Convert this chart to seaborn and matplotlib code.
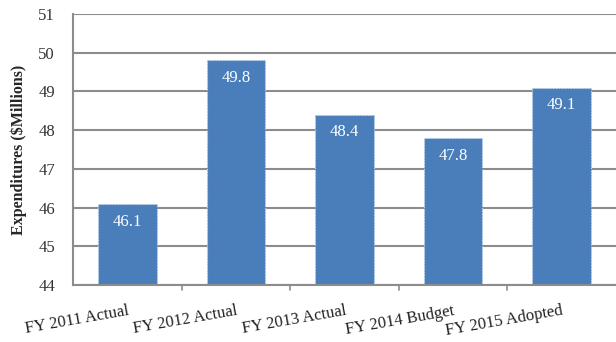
import matplotlib
matplotlib.use("Agg")
import matplotlib.pyplot as plt
import seaborn as sns
import pandas as pd

categories = ["FY 2011 Actual", "FY 2012 Actual", "FY 2013 Actual", "FY 2014 Budget", "FY 2015 Adopted"]
values = [46.1, 49.8, 48.4, 47.8, 49.1]
y_ticks = [44, 45, 46, 47, 48, 49, 50, 51]

df = pd.DataFrame({"category": categories, "value": values})

sns.set_style("white")
plt.rcParams["font.family"] = ["Liberation Serif", "DejaVu Serif"]

fig = plt.figure(figsize=(6.16, 3.42), dpi=100)
ax = fig.add_axes([0.1185, 0.1667, 0.8815, 0.7923])

for y in y_ticks:
    ax.axhline(y, color="#8c8c8c", linewidth=1.5, zorder=0)

sns.barplot(data=df, x="category", y="value", ax=ax, color="#4a7ebb",
            saturation=1, width=0.54, edgecolor="#c8d8ec", linewidth=0.8,
            linestyle=":", zorder=2)

ax.set_ylim(44, 51)
ax.set_xlim(-0.5, 4.5)
ax.set_yticks(y_ticks)
ax.set_yticklabels([str(t) for t in y_ticks], fontsize=12, color="#333333")
ax.tick_params(axis="y", length=5, color="#8c8c8c", width=1.2, pad=8)

for i, v in enumerate(values):
    ax.text(i, v - 0.46, f"{v:.1f}", ha="center", va="center", color="white", fontsize=12)

ax.set_xticks(range(len(categories)))
ax.set_xticklabels(categories, rotation=10, ha="right", rotation_mode="anchor",
                   fontsize=12, color="#222222")
ax.tick_params(axis="x", length=0, pad=13)
for b in [0.5, 1.5, 2.5, 3.5]:
    ax.plot([b, b], [44, 43.88], color="#8c8c8c", linewidth=1.2, clip_on=False)

ax.set_xlabel("")
ax.set_ylabel("Expenditures ($Millions)", fontsize=11.5, fontweight="bold", labelpad=8)

for s in ["top", "right"]:
    ax.spines[s].set_visible(False)
ax.spines["left"].set_color("#8c8c8c")
ax.spines["left"].set_linewidth(1.5)
ax.spines["bottom"].set_color("#8c8c8c")
ax.spines["bottom"].set_linewidth(1.5)

fig.savefig("out.png", dpi=100)
